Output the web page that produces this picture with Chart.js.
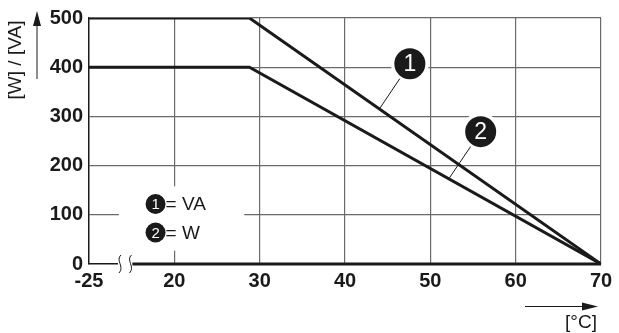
<!DOCTYPE html>
<html>
<head>
<meta charset="utf-8">
<script src="https://cdn.jsdelivr.net/npm/chart.js@4/dist/chart.umd.min.js"></script>
<style>
  html, body { margin: 0; padding: 0; background: #fff; }
  #wrap { width: 619px; height: 333px; position: relative; }
</style>
</head>
<body>
<div id="wrap"><canvas id="derating"></canvas></div>
<script>
// Derating data: power vs ambient temperature
const seriesNames = ["VA", "W"];
const tempPoints = [10, 28.8, 70];     // 10 stands for the broken "-25" start
const vaValues = [500, 500, 0];
const wValues = [400, 400, 0];
const yTicks = [0, 100, 200, 300, 400, 500];
const xTicks = [10, 20, 30, 40, 50, 60, 70];
const xTickLabels = ["-25", "20", "30", "40", "50", "60", "70"];

const FONT = '"Liberation Sans", Arial, Helvetica, sans-serif';
const INK = "#1a1a1a";
const GRID = "#6a6a6a";

// Callouts (data coords): circle centre and where the leader touches the line
const callouts = [
  { num: "1", cx: 47.6, cy: 407, tx: 44.1, ty: 317 },
  { num: "2", cx: 55.9, cy: 269, tx: 52.2, ty: 174 }
];

function toXY(xs, ys) {
  return xs.map((x, i) => ({ x: x, y: ys[i] }));
}

function numberCircle(ctx, x, y, r, txt, size) {
  ctx.beginPath();
  ctx.arc(x, y, r, 0, Math.PI * 2);
  ctx.fillStyle = INK;
  ctx.fill();
  ctx.fillStyle = "#fff";
  ctx.font = size + "px " + FONT;
  ctx.textAlign = "center";
  ctx.textBaseline = "middle";
  ctx.fillText(txt, x, y + 1);
}

const decor = {
  id: "decor",
  beforeDatasetsDraw(chart) {
    const ctx = chart.ctx;
    const xs = chart.scales.x, ys = chart.scales.y;
    ctx.save();
    ctx.fillStyle = "#fff";
    // blank area behind the legend
    const lx0 = xs.getPixelForValue(13.5), lx1 = xs.getPixelForValue(28.2);
    const ly0 = ys.getPixelForValue(158), ly1 = ys.getPixelForValue(27);
    ctx.fillRect(lx0, ly0, lx1 - lx0, ly1 - ly0);
    // halos behind callout circles
    callouts.forEach(c => {
      ctx.beginPath();
      ctx.arc(xs.getPixelForValue(c.cx), ys.getPixelForValue(c.cy), 19, 0, Math.PI * 2);
      ctx.fill();
    });
    ctx.restore();
  },
  afterDatasetsDraw(chart) {
    const ctx = chart.ctx;
    const xs = chart.scales.x, ys = chart.scales.y;
    const area = chart.chartArea;
    ctx.save();

    // axis break and heavy baseline
    const b0 = xs.getPixelForValue(13.4), b1 = xs.getPixelForValue(15.1);
    ctx.fillStyle = "#fff";
    ctx.fillRect(b0, area.bottom - 3, b1 - b0, 6);
    ctx.strokeStyle = INK;
    ctx.lineWidth = 3;
    ctx.beginPath();
    ctx.moveTo(b1, area.bottom);
    ctx.lineTo(area.right, area.bottom);
    ctx.stroke();
    ctx.lineWidth = 1;
    [b0 + 2, b1 - 2].forEach(bx => {
      ctx.beginPath();
      ctx.moveTo(bx + 1, area.bottom - 9);
      ctx.bezierCurveTo(bx - 5, area.bottom - 4, bx + 5, area.bottom + 3, bx - 1, area.bottom + 9);
      ctx.stroke();
    });

    // callouts
    callouts.forEach(c => {
      const cx = xs.getPixelForValue(c.cx), cy = ys.getPixelForValue(c.cy);
      const tx = xs.getPixelForValue(c.tx), ty = ys.getPixelForValue(c.ty);
      const ang = Math.atan2(ty - cy, tx - cx);
      ctx.strokeStyle = INK;
      ctx.lineWidth = 1;
      ctx.beginPath();
      ctx.moveTo(cx + Math.cos(ang) * 18, cy + Math.sin(ang) * 18);
      ctx.lineTo(tx, ty);
      ctx.stroke();
      numberCircle(ctx, cx, cy, 15.5, c.num, 23);
    });

    // legend
    const legX = xs.getPixelForValue(17.8);
    [122, 64].forEach((v, i) => {
      const y = ys.getPixelForValue(v);
      numberCircle(ctx, legX, y, 10, String(i + 1), 15);
      ctx.fillStyle = INK;
      ctx.font = "19px " + FONT;
      ctx.textAlign = "left";
      ctx.textBaseline = "middle";
      ctx.fillText("= " + seriesNames[i], legX + 10, y + 1);
    });

    // y axis title and arrow
    ctx.fillStyle = INK;
    ctx.save();
    ctx.translate(16, 60);
    ctx.rotate(-Math.PI / 2);
    ctx.font = "19px " + FONT;
    ctx.textAlign = "center";
    ctx.textBaseline = "middle";
    ctx.fillText("[W] / [VA]", 0, 0);
    ctx.restore();
    ctx.lineWidth = 1;
    ctx.beginPath();
    ctx.moveTo(37, 79);
    ctx.lineTo(37, 22);
    ctx.stroke();
    ctx.beginPath();
    ctx.moveTo(37, 11);
    ctx.lineTo(33, 26);
    ctx.lineTo(41, 26);
    ctx.closePath();
    ctx.fill();

    // x axis title and arrow
    ctx.beginPath();
    ctx.moveTo(525, 306.5);
    ctx.lineTo(585, 306.5);
    ctx.stroke();
    ctx.beginPath();
    ctx.moveTo(598, 306.5);
    ctx.lineTo(582, 302.5);
    ctx.lineTo(582, 310.5);
    ctx.closePath();
    ctx.fill();
    ctx.font = "19px " + FONT;
    ctx.textAlign = "center";
    ctx.textBaseline = "middle";
    ctx.fillText("[°C]", 581, 323);

    ctx.restore();
  }
};

new Chart(document.getElementById("derating"), {
  type: "line",
  data: {
    datasets: [
      { label: seriesNames[0], data: toXY(tempPoints, vaValues) },
      { label: seriesNames[1], data: toXY(tempPoints, wValues) }
    ].map(d => Object.assign(d, {
      borderColor: INK,
      borderWidth: 3,
      pointRadius: 0,
      tension: 0,
      fill: false
    }))
  },
  options: {
    responsive: true,
    maintainAspectRatio: false,
    animation: false,
    layout: { padding: { left: 0, top: 17, right: 18, bottom: 0 } },
    plugins: { legend: { display: false }, tooltip: { enabled: false } },
    scales: {
      x: {
        type: "linear",
        min: 10,
        max: 70,
        afterBuildTicks: s => { s.ticks = xTicks.map(v => ({ value: v })); },
        afterFit: s => { s.height = 69; },
        ticks: {
          color: INK,
          padding: 5,
          font: { family: FONT, size: 20, weight: "bold" },
          maxRotation: 0,
          autoSkip: false,
          callback: v => xTickLabels[xTicks.indexOf(v)]
        },
        grid: {
          drawTicks: false,
          lineWidth: 1.2,
          color: c => (c.tick && c.tick.value === 10 ? "rgba(0,0,0,0)" : GRID)
        },
        border: { color: INK, width: 1.5 }
      },
      y: {
        min: 0,
        max: 500,
        afterBuildTicks: s => { s.ticks = yTicks.map(v => ({ value: v })); },
        afterFit: s => { s.width = 89; },
        ticks: {
          color: INK,
          padding: 6,
          font: { family: FONT, size: 20, weight: "bold" }
        },
        grid: {
          drawTicks: false,
          lineWidth: 1.2,
          color: c => (c.tick && c.tick.value === 0 ? "rgba(0,0,0,0)" : GRID)
        },
        border: { color: INK, width: 1.5 }
      }
    }
  },
  plugins: [decor]
});
</script>
</body>
</html>
